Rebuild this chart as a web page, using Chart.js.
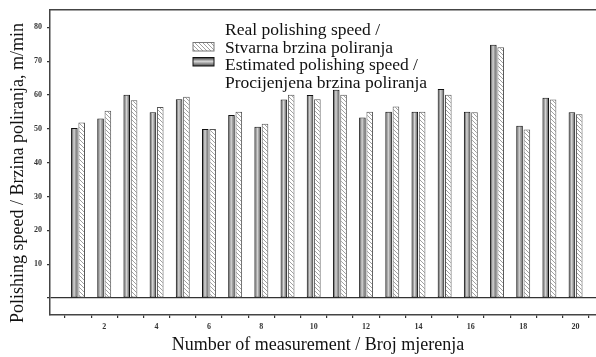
<!DOCTYPE html>
<html>
<head>
<meta charset="utf-8">
<script src="https://cdn.jsdelivr.net/npm/chart.js@4"></script>
<style>
  body { margin: 0; background: #fff; }
  #wrap { width: 596px; height: 357px; }
</style>
</head>
<body>
<div id="wrap"><canvas id="myChart"></canvas></div>
<script>
const measurement = [1, 2, 3, 4, 5, 6, 7, 8, 9, 10, 11, 12, 13, 14, 15, 16, 17, 18, 19, 20];
const estimated = [50.3, 53.1, 60.1, 54.9, 58.8, 50.0, 54.1, 50.6, 58.7, 60.0, 61.6, 53.4, 55.1, 55.1, 61.8, 55.1, 74.9, 50.9, 59.2, 54.9];
const real = [51.9, 55.4, 58.5, 56.5, 59.5, 50.0, 55.1, 51.5, 60.1, 58.8, 60.1, 55.1, 56.6, 55.1, 60.1, 54.9, 74.1, 49.8, 58.7, 54.3];
const yTicks = [0, 10, 20, 30, 40, 50, 60, 70, 80];
const realLabel = ['Real polishing speed /', 'Stvarna brzina poliranja'];
const estLabel = ['Estimated polishing speed /', 'Procijenjena brzina poliranja'];
const xTitle = 'Number of measurement / Broj mjerenja';
const yTitle = 'Polishing speed / Brzina poliranja, m/min';

const catPct = 0.56;
const barPct = 0.9;
const serif = '"Liberation Serif", "Times New Roman", serif';

// hatch pattern for the real speed bars
const tile = document.createElement('canvas');
tile.width = 4;
tile.height = 4;
const tc = tile.getContext('2d');
tc.fillStyle = '#fff';
tc.fillRect(0, 0, 4, 4);
tc.strokeStyle = '#a0a0a0';
tc.lineWidth = 1;
tc.beginPath();
tc.moveTo(0, 0); tc.lineTo(4, 4);
tc.moveTo(-1, 3); tc.lineTo(1, 5);
tc.moveTo(3, -1); tc.lineTo(5, 1);
tc.stroke();
const hatch = tc.createPattern(tile, 'repeat');

function darkGradient(ctx, x0, x1, vertical) {
  const g = vertical ? ctx.createLinearGradient(0, x0, 0, x1) : ctx.createLinearGradient(x0, 0, x1, 0);
  g.addColorStop(0, '#2e2e2e');
  g.addColorStop(0.45, '#d8d8d8');
  g.addColorStop(1, '#4a4a4a');
  return g;
}

function estimatedFill(context) {
  const chart = context.chart;
  const xs = chart.scales.x;
  if (!xs || context.dataIndex === undefined) return '#777';
  const px = xs.getPixelForValue(measurement[context.dataIndex]);
  const step = xs.getPixelForValue(2) - xs.getPixelForValue(1);
  if (!isFinite(px) || !isFinite(step)) return '#777';
  const slot = step * catPct / 2;
  const w = slot * barPct;
  const c = px - slot / 2;
  return darkGradient(chart.ctx, c - w / 2, c + w / 2, false);
}

const extras = {
  id: 'extras',
  afterDraw(chart) {
    const ctx = chart.ctx;
    const area = chart.chartArea;
    ctx.save();
    // top frame line
    ctx.strokeStyle = '#444';
    ctx.lineWidth = 1.5;
    ctx.beginPath();
    ctx.moveTo(area.left, area.top);
    ctx.lineTo(area.right, area.top);
    ctx.stroke();

    // legend
    ctx.fillStyle = '#111';
    ctx.font = '17.5px ' + serif;
    ctx.textBaseline = 'alphabetic';
    ctx.textAlign = 'left';
    ctx.fillText(realLabel[0], 225, 35);
    ctx.fillText(realLabel[1], 225, 52.5);
    ctx.fillText(estLabel[0], 225, 70);
    ctx.fillText(estLabel[1], 225, 88);

    ctx.lineWidth = 1;
    ctx.fillStyle = hatch;
    ctx.fillRect(193, 42.5, 21, 8.5);
    ctx.strokeStyle = '#777';
    ctx.strokeRect(193, 42.5, 21, 8.5);
    ctx.fillStyle = darkGradient(ctx, 57.5, 66, true);
    ctx.fillRect(193, 57.5, 21, 8.5);
    ctx.strokeStyle = '#111';
    ctx.strokeRect(193, 57.5, 21, 8.5);

    // axis titles
    ctx.fillStyle = '#111';
    ctx.font = '18px ' + serif;
    ctx.textAlign = 'center';
    ctx.textBaseline = 'middle';
    ctx.fillText(xTitle, 318, 345);
    ctx.translate(18, 173);
    ctx.rotate(-Math.PI / 2);
    ctx.fillText(yTitle, 0, 0);
    ctx.restore();
  }
};

new Chart(document.getElementById('myChart'), {
  type: 'bar',
  data: {
    datasets: [{
      label: estLabel.join(' '),
      data: measurement.map((m, i) => ({ x: m, y: estimated[i] })),
      backgroundColor: estimatedFill,
      borderColor: '#111',
      borderWidth: 1,
      borderSkipped: false,
      categoryPercentage: catPct,
      barPercentage: barPct
    }, {
      label: realLabel.join(' '),
      data: measurement.map((m, i) => ({ x: m, y: real[i] })),
      backgroundColor: hatch,
      borderColor: '#555',
      borderWidth: 1,
      borderSkipped: false,
      categoryPercentage: catPct,
      barPercentage: barPct
    }]
  },
  options: {
    responsive: true,
    maintainAspectRatio: false,
    animation: false,
    layout: { padding: { top: 8, right: 0, left: 0, bottom: 0 } },
    plugins: {
      legend: { display: false },
      tooltip: { enabled: false }
    },
    scales: {
      x: {
        type: 'linear',
        min: -0.07,
        max: 20.78,
        offset: false,
        afterBuildTicks: axis => { axis.ticks = measurement.map(v => ({ value: v })); },
        afterFit: axis => { axis.height = 42; },
        grid: { drawOnChartArea: false, color: '#333', tickLength: 3, lineWidth: 1.2 },
        border: { color: '#444', width: 1.5 },
        ticks: {
          autoSkip: false,
          maxRotation: 0,
          padding: 4,
          color: '#333',
          font: { family: serif, size: 8, weight: 'bold' },
          callback: v => (v % 2 === 0 ? v : '')
        }
      },
      y: {
        min: -5,
        max: 85.2,
        afterBuildTicks: axis => { axis.ticks = yTicks.map(v => ({ value: v })); },
        afterFit: axis => { axis.width = 50; },
        grid: {
          color: c => (c.tick && c.tick.value === 0 ? '#333' : 'rgba(0,0,0,0)'),
          tickColor: '#333',
          tickLength: 3,
          lineWidth: 1.3
        },
        border: { color: '#444', width: 1.5 },
        ticks: {
          padding: 5,
          color: '#333',
          font: { family: serif, size: 8, weight: 'bold' },
          callback: v => (v === 0 ? '' : v)
        }
      }
    }
  },
  plugins: [extras]
});
</script>
</body>
</html>
